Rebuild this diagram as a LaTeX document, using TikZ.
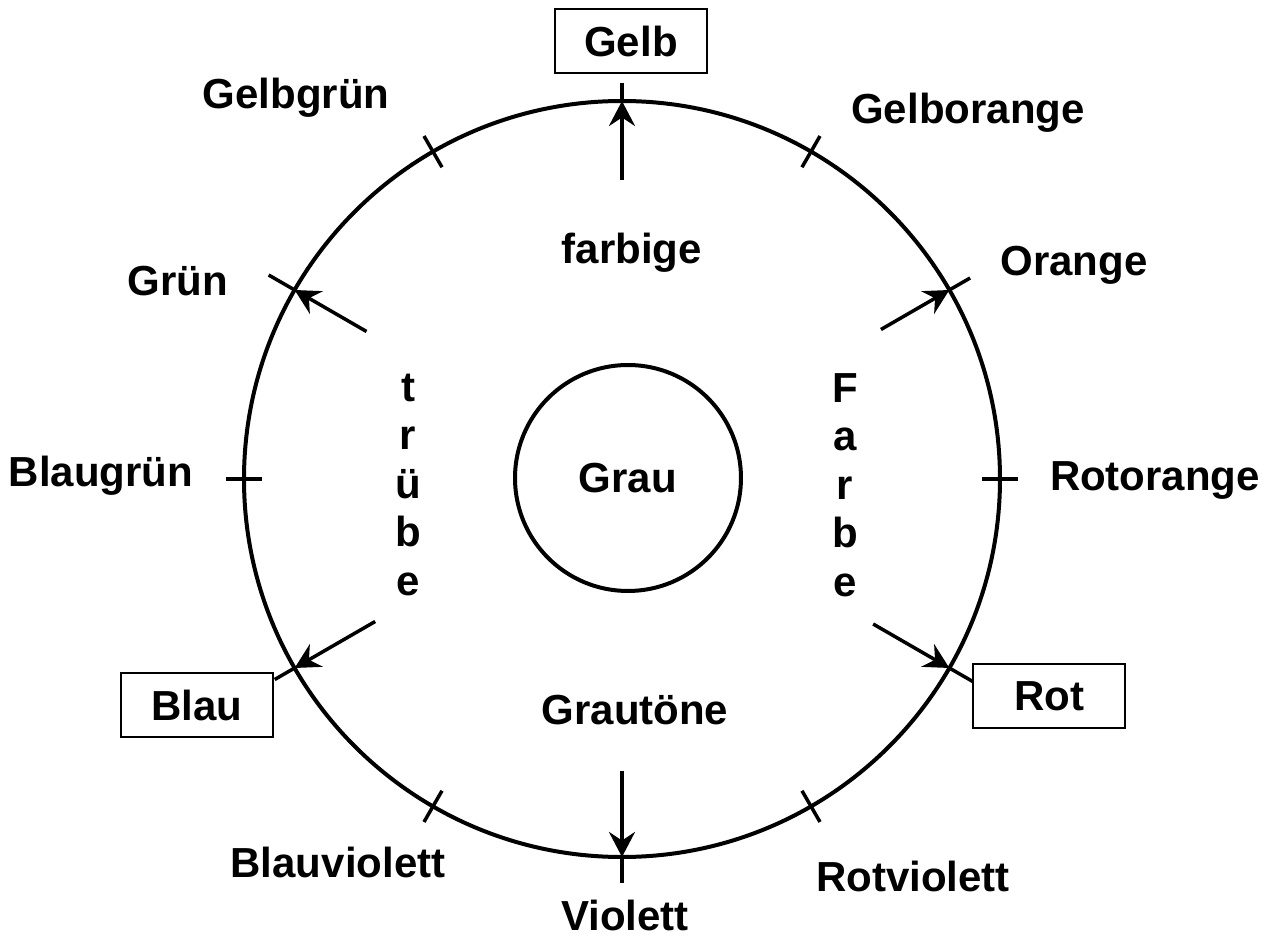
\documentclass[tikz,border=0pt]{standalone}
\usepackage{fontspec}
\setmainfont{Liberation Sans}
\usetikzlibrary{arrows.meta}

\begin{document}
\begin{tikzpicture}[
    font=\fontsize{23.9}{27.6}\selectfont\bfseries,
    rim/.style={line width=0.08cm},
    ray/.style={line width=0.07cm},
    tip/.style={ray, -{Stealth[length=0.5cm,width=0.52cm,inset=0.17cm]}},
    huebox/.style={draw, line width=0.04cm, minimum width=3.04cm,
      minimum height=1.28cm, inner sep=0pt},
    stack/.style={align=center}]
  \useasboundingbox (-12.44,-9.24) rectangle (13.04,9.58);

  % circles
  \draw[rim] (0,0) circle (7.56);
  \node[draw, circle, rim, minimum size=4.52cm] (grau) at (0.12,0.02) {Grau};

  % hue names
  \node[huebox] (gelb) at (0.18,8.76) {Gelb};
  \node[huebox] (rot) at (8.54,-4.34) {Rot};
  \node[huebox] (blau) at (-8.5,-4.52) {Blau};
  \node (gelbgruen) at (-6.52,7.62) {Gelbgrün};
  \node (gelborange) at (6.92,7.32) {Gelborange};
  \node (orange) at (9.04,4.28) {Orange};
  \node (gruen) at (-8.88,3.96) {Grün};
  \node (blaugruen) at (-10.42,0.06) {Blaugrün};
  \node (rotorange) at (10.66,-0.04) {Rotorange};
  \node (blauviolett) at (-5.68,-7.66) {Blauviolett};
  \node (violett) at (0.06,-8.72) {Violett};
  \node (rotviolett) at (5.82,-7.94) {Rotviolett};

  % inner words
  \node (farbige) at (0.2,4.52) {farbige};
  \node (grautoene) at (0.26,-4.62) {Grautöne};
  \node[stack] (truebe) at (-4.28,-0.12) {t\\r\\ü\\b\\e};
  \node[stack] (farbe) at (4.46,-0.12) {F\\a\\r\\b\\e};

  % rays with arrows
  \coordinate (gelb-in) at (90:5.98);
  \coordinate (gelb-rim) at (90:7.56);
  \coordinate (gelb-out) at (90:7.92);
  \coordinate (orange-in) at (30:5.98);
  \coordinate (orange-rim) at (30:7.56);
  \coordinate (orange-out) at (30:8.04);
  \coordinate (rot-in) at (-30:5.8);
  \coordinate (rot-rim) at (-30:7.56);
  \coordinate (rot-out) at (-30:8.1);
  \coordinate (violett-in) at (-90:5.84);
  \coordinate (violett-rim) at (-90:7.56);
  \coordinate (violett-out) at (-90:8.08);
  \coordinate (blau-in) at (-150:5.7);
  \coordinate (blau-rim) at (-150:7.56);
  \coordinate (blau-out) at (-150:8.02);
  \coordinate (gruen-in) at (150:5.9);
  \coordinate (gruen-rim) at (150:7.56);
  \coordinate (gruen-out) at (150:8.16);
  \draw[tip] (gelb-in) -- (gelb-rim);
  \draw[ray] (gelb-rim) -- (gelb-out);
  \draw[tip] (orange-in) -- (orange-rim);
  \draw[ray] (orange-rim) -- (orange-out);
  \draw[tip] (rot-in) -- (rot-rim);
  \draw[ray] (rot-rim) -- (rot-out);
  \draw[tip] (violett-in) -- (violett-rim);
  \draw[ray] (violett-rim) -- (violett-out);
  \draw[tip] (blau-in) -- (blau-rim);
  \draw[ray] (blau-rim) -- (blau-out);
  \draw[tip] (gruen-in) -- (gruen-rim);
  \draw[ray] (gruen-rim) -- (gruen-out);

  % ticks between
  \draw[ray] (0:7.2) -- (0:7.92);
  \draw[ray] (60:7.2) -- (60:7.92);
  \draw[ray] (120:7.2) -- (120:7.92);
  \draw[ray] (180:7.2) -- (180:7.92);
  \draw[ray] (240:7.2) -- (240:7.92);
  \draw[ray] (300:7.2) -- (300:7.92);
\end{tikzpicture}
\end{document}
